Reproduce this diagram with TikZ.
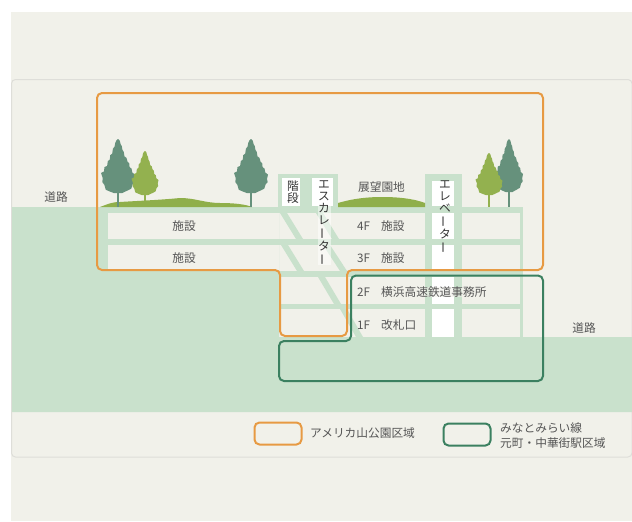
\documentclass[tikz,border=0pt]{standalone}
\usepackage{fontspec}
\usepackage{graphicx}
\setmainfont{Noto Sans CJK JP}
\definecolor{pagebg}{HTML}{F1F1EA}
\definecolor{ground}{HTML}{C9E1CC}
\definecolor{treedark}{HTML}{66917C}
\definecolor{treelight}{HTML}{93B14F}
\definecolor{hill}{HTML}{8FAF4A}
\definecolor{orangeline}{HTML}{E79A43}
\definecolor{greenline}{HTML}{3B8060}
\definecolor{panelline}{HTML}{DEDED9}
\definecolor{labelgrey}{HTML}{555555}
\definecolor{labeldark}{HTML}{333333}
\newcommand{\vbar}{\rotatebox[origin=c]{90}{ー}}
% apex x, apex y, half width, foliage height, colour, trunk bottom
\newcommand{\conifer}[6]{%
  \fill[#5] (#1-1.2,#2+#4-3) rectangle (#1+1.2,#6);
  \fill[#5,shift={(#1,#2)},xscale=#3,yscale=#4]
    (0,0) -- (.1,.03) -- (.16,.1) -- (.22,.13) -- (.26,.2) -- (.34,.24) -- (.38,.32) -- (.5,.35)
    -- (.56,.42) -- (.66,.45) -- (.68,.52) -- (.8,.55) -- (.84,.62) -- (1,.66) -- (.94,.74) -- (.98,.8)
    -- (.86,.84) -- (.78,.92) -- (.52,.96) -- (.25,1) -- (-.25,1) -- (-.5,.97) -- (-.72,.94)
    -- (-.8,.85) -- (-.92,.8) -- (-.9,.72) -- (-1,.63) -- (-.82,.6) -- (-.8,.52) -- (-.64,.5) -- (-.6,.41)
    -- (-.48,.38) -- (-.46,.3) -- (-.34,.27) -- (-.3,.18) -- (-.2,.14) -- (-.16,.07) -- (-.1,.03) -- cycle;
}
\tikzset{
  lbl/.style={font=\fontsize{11.7}{12}\selectfont,text=labelgrey,inner sep=0pt},
  lblw/.style={lbl,anchor=west},
  vlbl/.style={lbl,text=labeldark,align=center,text width=13pt},
  region/.style={line width=2pt,rounded corners=5pt},
  orangeregion/.style={region,draw=orangeline},
  greenregion/.style={region,draw=greenline}
}
\begin{document}
\begin{tikzpicture}[x=1pt,y=-1pt]
\useasboundingbox (0,0) rectangle (632,522);
\fill[white] (0,0) rectangle (632,522);
\fill[pagebg] (11,12) rectangle (632,521);
\draw[panelline,line width=1pt,rounded corners=4pt] (11.5,79.5) rectangle (632,457);
% ground
\fill[ground] (12,207) -- (279,207) -- (279,337) -- (632,337) -- (632,412) -- (12,412) -- cycle;
% rooms
\fill[pagebg] (108,213) rectangle (279,270);
% slabs and columns
\fill[ground] (108,239) rectangle (523,245);
\fill[ground] (279,207) rectangle (523,213);
\fill[ground] (279,271) rectangle (523,277);
\fill[ground] (279,304) rectangle (523,309);
\fill[ground] (520,207) rectangle (523,337);
\fill[ground] (425,174) rectangle (462,337);
\fill[ground] (278,174) rectangle (338,207);
% diagonals
\fill[ground] (280,213) -- (287,213) -- (303,239) -- (296,239) -- cycle;
\fill[ground] (281,245) -- (288,245) -- (304,271) -- (297,271) -- cycle;
\fill[ground] (316,213) -- (323,213) -- (339,239) -- (332,239) -- cycle;
\fill[ground] (323,245) -- (330,245) -- (347,271) -- (340,271) -- cycle;
\fill[ground] (318,277) -- (325,277) -- (341,304) -- (334,304) -- cycle;
\fill[ground] (340,309) -- (347,309) -- (363,337) -- (356,337) -- cycle;
% white openings
\fill[white] (282,178) rectangle (300,206);
\fill[white] (312,178) rectangle (333,206);
\fill[white] (432,181) rectangle (454,206);
\fill[white] (432,213) rectangle (454,239);
\fill[white] (432,245) rectangle (454,271);
\fill[white] (432,277) rectangle (454,304);
\fill[white] (432,309) rectangle (454,337);
% hills
\fill[hill] (100,207) .. controls (108,204) and (112,202) .. (120,202)
  .. controls (135,201) and (160,200) .. (180,198)
  .. controls (195,198) and (205,203) .. (220,203)
  .. controls (232,203) and (245,204) .. (252,207) -- cycle;
\fill[hill] (338,207) -- (338,203) .. controls (355,198) and (370,197) .. (382,197)
  .. controls (395,197) and (412,198) .. (425,203) -- (425,207) -- cycle;
% trees
\conifer{118}{139}{17}{54}{treedark}{207}
\conifer{145}{151}{13.5}{44}{treelight}{201}
\conifer{251}{139}{17}{54}{treedark}{207}
\conifer{509}{139}{14}{53}{treedark}{207}
\conifer{489}{153}{13.5}{42}{treelight}{207}
% labels
\node[lbl] (road1) at (56,197) {道路};
\node[lbl] (road2) at (584,328) {道路};
\node[lbl] (fac1) at (184,226) {施設};
\node[lbl] (fac2) at (184,258) {施設};
\node[lbl] (park) at (381.5,187) {展望園地};
\node[vlbl] (stairs) at (293,192) {階\\段};
\node[vlbl,fill=white,fill opacity=.5,text opacity=1,inner xsep=0pt] (esc) at (324,223) {エ\\ス\\カ\\レ\\\vbar\\タ\\\vbar};
\node[vlbl] (elev) at (445,217) {エ\\レ\\ベ\\\vbar\\タ\\\vbar};
\node[lblw] (f4) at (357,226) {4F};
\node[lblw] (f4t) at (381,226) {施設};
\node[lblw] (f3) at (357,258) {3F};
\node[lblw] (f3t) at (381,258) {施設};
\node[lblw] (f2) at (357,292) {2F};
\node[lblw,fill=pagebg,fill opacity=.6,text opacity=1] (f2t) at (381,292) {横浜高速鉄道事務所};
\node[lblw] (f1) at (357,325) {1F};
\node[lblw] (f1t) at (381,325) {改札口};
% regions
\draw[orangeregion] (97,93) -- (543,93) -- (543,270) -- (347,270) -- (347,336) -- (280,336) -- (280,270) -- (97,270) -- cycle;
\draw[greenregion] (351,275.5) -- (543,275.5) -- (543,381) -- (279,381) -- (279,341) -- (351,341) -- cycle;
% legend
\node[draw=orangeline,line width=2pt,rounded corners=5pt,minimum width=47pt,minimum height=22pt,inner sep=0pt] (keyorange) at (278,433.5) {};
\node[draw=greenline,line width=2pt,rounded corners=5pt,minimum width=47pt,minimum height=22pt,inner sep=0pt] (keygreen) at (467,434.5) {};
\node[lblw] (keyorangetext) at (310,433.5) {アメリカ山公園区域};
\node[lblw] (keygreen1) at (500,428) {みなとみらい線};
\node[lblw] (keygreen2) at (500,443) {元町・中華街駅区域};
\end{tikzpicture}
\end{document}
